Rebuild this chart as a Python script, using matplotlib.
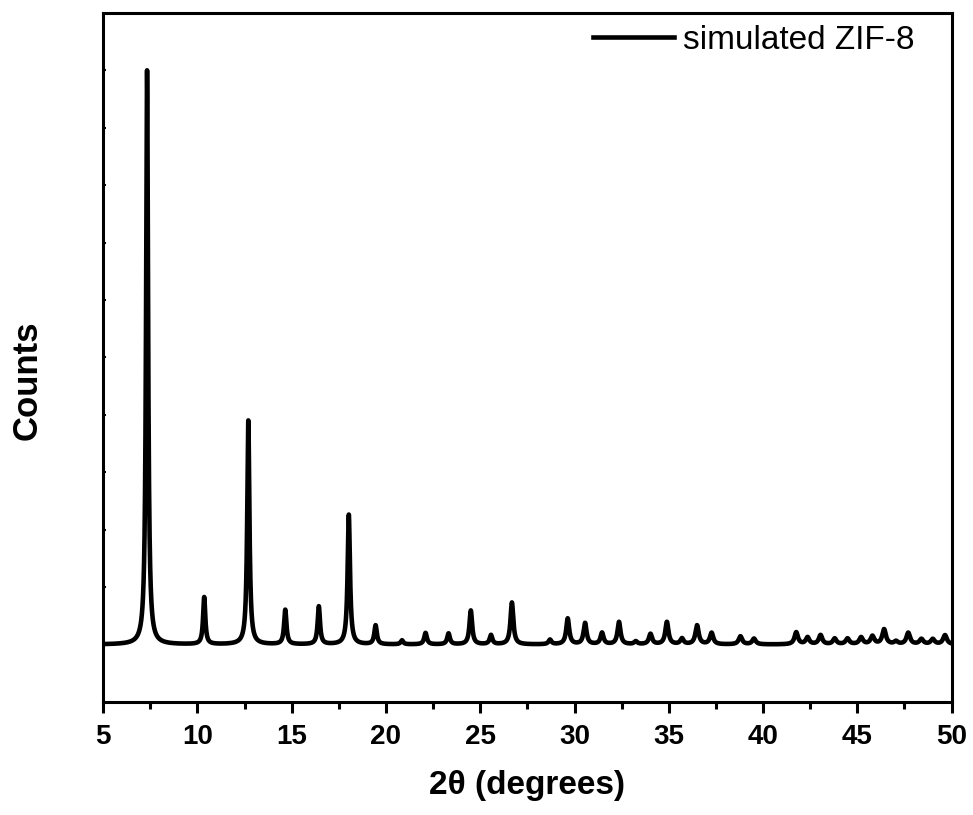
import numpy as np
import matplotlib.pyplot as plt

plt.rcParams['font.family'] = ['Liberation Sans', 'DejaVu Sans']

# simulated ZIF-8 reflections (2theta, relative height, FWHM)
peak_pos = [7.33, 10.36, 12.70, 14.66, 16.44, 18.03, 19.45, 20.85, 22.10, 23.32,
            24.50, 25.57, 26.68, 28.70, 29.64, 30.56, 31.46, 32.36, 33.25, 34.03,
            34.90, 35.70, 36.50, 37.27, 38.80, 39.52, 41.76, 42.36, 43.05, 43.80,
            44.48, 45.20, 45.80, 46.42, 47.05, 47.70, 48.40, 49.00, 49.65]
peak_height = [10.0, 0.82, 3.90, 0.60, 0.66, 2.26, 0.33, 0.07, 0.20, 0.19,
               0.59, 0.16, 0.73, 0.08, 0.45, 0.37, 0.20, 0.39, 0.05, 0.18,
               0.39, 0.10, 0.33, 0.20, 0.14, 0.10, 0.21, 0.12, 0.16, 0.10,
               0.10, 0.12, 0.14, 0.26, 0.05, 0.20, 0.09, 0.09, 0.16]
peak_fwhm = [0.13, 0.14, 0.14, 0.15, 0.15, 0.15, 0.16, 0.16, 0.17, 0.17,
             0.17, 0.17, 0.18, 0.18, 0.19, 0.19, 0.19, 0.19, 0.20, 0.20,
             0.20, 0.20, 0.21, 0.21, 0.22, 0.22, 0.22, 0.22, 0.22, 0.22,
             0.23, 0.23, 0.23, 0.23, 0.23, 0.23, 0.24, 0.24, 0.24]

two_theta = np.linspace(5, 50, 9001)
counts = np.zeros_like(two_theta)
for p, h, w in zip(peak_pos, peak_height, peak_fwhm):
    hw = w / 2
    counts += h * hw**2 / ((two_theta - p)**2 + hw**2)

fig = plt.figure(figsize=(9.73, 8.15), dpi=100)
ax = fig.add_axes([0.106, 0.1387, 0.872, 0.8454])
ax.plot(two_theta, counts, color='black', lw=3.3, label='simulated ZIF-8')

ax.set_xlim(5, 50)
ax.set_ylim(-1, 11)
ax.set_xticks(np.arange(5, 51, 5))
ax.set_xticks(np.arange(7.5, 50, 5), minor=True)
ax.set_yticks(np.arange(0, 11, 1))
ax.set_yticklabels([])

for s in ax.spines.values():
    s.set_linewidth(2.2)
ax.tick_params(axis='x', which='major', direction='out', length=8, width=2.2,
               labelsize=20, pad=8)
ax.tick_params(axis='x', which='minor', direction='out', length=5, width=2.2)
ax.tick_params(axis='y', direction='in', length=2, width=1.5)
for lab in ax.get_xticklabels():
    lab.set_fontweight('bold')

ax.set_xlabel('2θ (degrees)', fontsize=24, fontweight='bold', labelpad=14)
ax.set_ylabel('Counts', fontsize=25, fontweight='bold')
ax.yaxis.set_label_coords(-0.07, 0.467)

ax.legend(loc='upper right', bbox_to_anchor=(0.956, 0.983), frameon=False,
          fontsize=24, handlelength=2.45, handletextpad=0.25,
          borderaxespad=0, borderpad=0)

fig.savefig('out.png', dpi=100)
